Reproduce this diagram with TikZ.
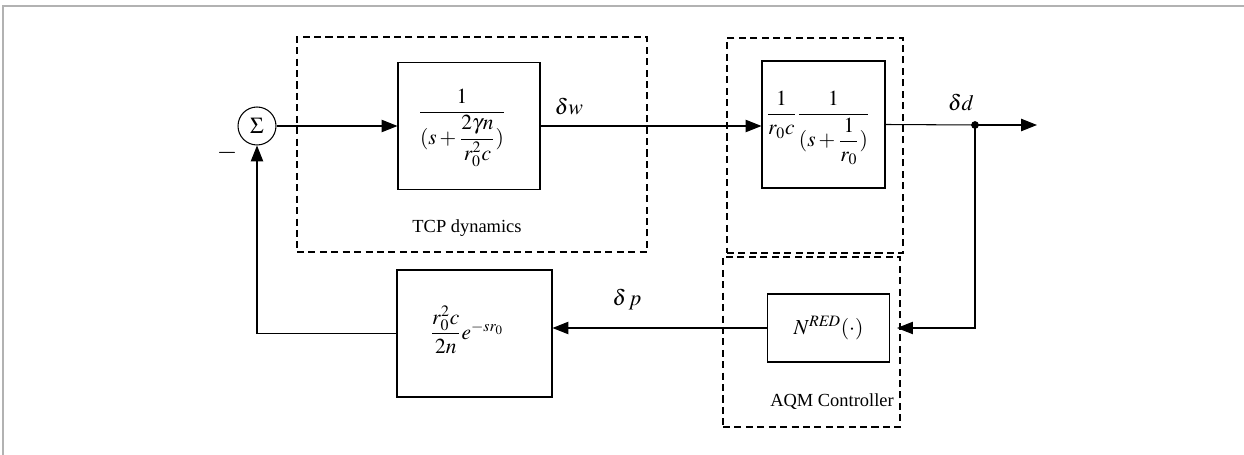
\documentclass[tikz,border=0pt]{standalone}
\usepackage{amsmath}
\usepackage{mathptmx}
\usepackage{fontspec}
\setmainfont{Liberation Serif}
\usetikzlibrary{arrows.meta}
\begin{document}
\begin{tikzpicture}[x=0.02cm,y=-0.02cm,
  font=\fontsize{10.5}{13}\selectfont,
  blk/.style={draw,line width=0.6pt,inner sep=0pt,font=\fontsize{12.2}{14}\selectfont},
  grp/.style={draw,line width=0.7pt,dash pattern=on 4pt off 2.5pt,inner sep=0pt},
  con/.style={line width=0.6pt},
  arr/.style={con,-{Triangle[length=9pt,width=7pt]}},
  lbl/.style={inner sep=1pt,font=\fontsize{12.5}{14}\selectfont}]
\useasboundingbox (0,0) rectangle (1244,455);
\draw[color=black!30,line width=1pt] (3,455) -- (3,6) -- (1244,6);
% groups
\node[grp,minimum width=7.0cm,minimum height=4.3cm] (tcp) at (472,144.5) {};
\node[grp,minimum width=3.52cm,minimum height=4.3cm] (plant) at (815,145.5) {};
\node[grp,minimum width=3.54cm,minimum height=3.4cm] (aqm) at (811.5,342) {};
% blocks
\node[draw,circle,line width=0.6pt,minimum size=0.76cm,inner sep=0pt,font=\fontsize{13}{14}\selectfont] (s) at (257,126) {$\Sigma$};
\node[blk,minimum width=2.84cm,minimum height=2.54cm] (b1) at (469,126) {};
\node (b1t) at (462,128) [font=\fontsize{12.2}{14}\selectfont] {$\dfrac{1}{(s+\dfrac{2\gamma n}{r_0^2 c})}$};
\node[blk,minimum width=2.46cm,minimum height=2.54cm] (b2) at (823.5,124.5) {};
\node (b2t) at (818,128) [font=\fontsize{12.2}{14}\selectfont] {$\dfrac{1}{r_0 c}\dfrac{1}{(s+\dfrac{1}{r_0})}$};
\node[blk,minimum width=2.44cm,minimum height=1.36cm] (nb) at (828.5,328)
  {$N^{\mathit{RED}}(\cdot)$};
\node[blk,minimum width=3.1cm,minimum height=2.54cm] (b3) at (474.5,333.5) {};
\node (b3t) at (467,330) [font=\fontsize{12.2}{14}\selectfont] {$\dfrac{r_0^2 c}{2n}e^{-sr_0}$};
% labels
\node[lbl] (lw) at (569,107) {$\delta w$};
\node[lbl] (ld) at (961,103) {$\delta d$};
\node[lbl] (lp) at (627,300) {$\delta\, p$};
\node[lbl,font=\fontsize{15}{16}\selectfont] (lm) at (227,153) {$-$};
\node[inner sep=1pt] (ltcp) at (467,228) {TCP dynamics};
\node[inner sep=1pt] (laqm) at (832,402) {AQM Controller};
% connectors
\coordinate (dot) at (975,125);
\coordinate (out) at (1037,125);
\draw[arr] (s.east) -- (b1.west |- s.east);
\draw[arr] (b1.east) -- (b1.east -| b2.west);
\draw[con] (b2.east) -- (dot);
\draw[arr] (dot) -- (out);
\fill (dot) circle (2.2pt);
\draw[arr,shorten >=4pt] (dot) |- (nb.east);
\draw[arr] (nb.west) -- (nb.west -| b3.east);
\draw[arr] (b3.west) -| (s.south);
\end{tikzpicture}
\end{document}
